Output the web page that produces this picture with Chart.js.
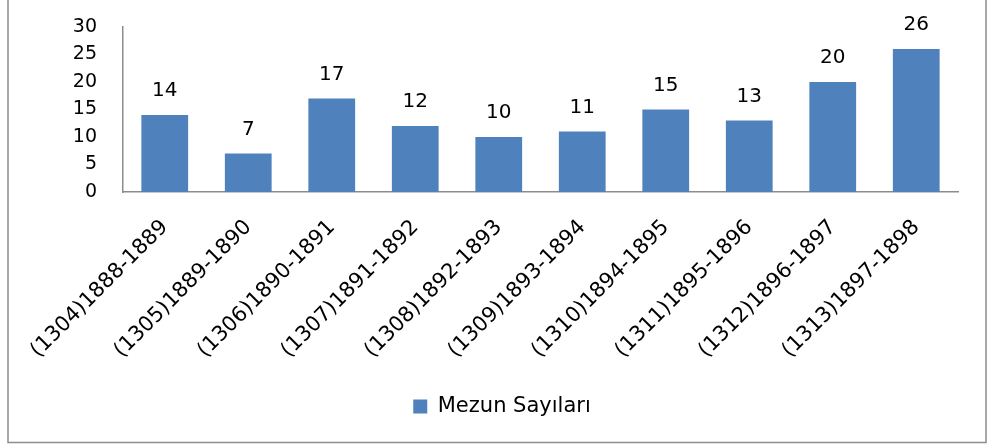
<!DOCTYPE html>
<html>
<head>
<meta charset="utf-8">
<script src="https://cdn.jsdelivr.net/npm/chart.js@4"></script>
<style>
  html, body { margin: 0; padding: 0; background: #fff; }
  #wrap { width: 988px; height: 447px; }
</style>
</head>
<body>
<div id="wrap"><canvas id="myChart" width="988" height="447"></canvas></div>
<script>
const donemler = ['(1304)1888-1889', '(1305)1889-1890', '(1306)1890-1891', '(1307)1891-1892', '(1308)1892-1893',
    '(1309)1893-1894', '(1310)1894-1895', '(1311)1895-1896', '(1312)1896-1897', '(1313)1897-1898'];
const mezunSayilari = [14, 7, 17, 12, 10, 11, 15, 13, 20, 26];
const seriAdi = 'Mezun Sayıları';
const yTicks = [0, 5, 10, 15, 20, 25, 30];

const yazi = 'DejaVu Sans';
const gri = '#8c8c8c';

// bar ustundeki sayilar
const degerEtiketi = {
    id: 'degerEtiketi',
    afterDatasetsDraw(chart) {
        const c = chart.ctx;
        const meta = chart.getDatasetMeta(0);
        c.save();
        c.font = '20px "' + yazi + '"';
        c.fillStyle = '#000';
        c.textAlign = 'center';
        c.textBaseline = 'alphabetic';
        meta.data.forEach((bar, i) => {
            c.fillText(String(chart.data.datasets[0].data[i]), bar.x, bar.y - 19);
        });
        c.restore();
    }
};

// dis cerceve + legend'i biraz saga kaydir
const cerceve = {
    id: 'cerceve',
    afterLayout(chart) {
        chart.legend.left += 23;
        chart.legend.right += 23;
    },
    beforeDraw(chart) {
        const c = chart.ctx;
        c.save();
        c.fillStyle = '#fff';
        c.fillRect(0, 0, chart.width, chart.height);
        c.strokeStyle = gri;
        c.lineWidth = 1.5;
        c.strokeRect(8, -5, 978, 447.5);
        c.restore();
    }
};

const ctx = document.getElementById('myChart');

let myChart = new Chart(ctx, {
    type: 'bar',
    data: {
        labels: donemler,
        datasets: [{
            label: seriAdi,
            data: mezunSayilari,
            backgroundColor: '#4f81bd',
            borderWidth: 0,
            barPercentage: 0.56,
            categoryPercentage: 1
        }]
    },
    options: {
        responsive: false,
        animation: false,
        layout: {
            padding: { top: 27, right: 30, left: 0, bottom: 20 }
        },
        scales: {
            x: {
                grid: { display: false, drawTicks: false },
                border: { display: true, color: gri, width: 1.5 },
                ticks: {
                    color: '#000',
                    font: { family: yazi, size: 21 },
                    minRotation: 45,
                    maxRotation: 45,
                    padding: 23,
                    autoSkip: false
                },
                afterFit(scale) {
                    scale.height = 194;
                    scale.paddingLeft = 0;
                    scale.paddingRight = 0;
                }
            },
            y: {
                min: 0,
                max: 30,
                grid: { display: false, drawTicks: false },
                border: { display: true, color: gri, width: 1.5 },
                ticks: {
                    color: '#000',
                    font: { family: yazi, size: 19 },
                    padding: 26,
                    autoSkip: false
                },
                afterBuildTicks(scale) {
                    scale.ticks = yTicks.map(v => ({ value: v }));
                },
                afterFit(scale) {
                    scale.width = 123;
                    // tick padding'i ust/alt bosluga eklenmesin
                    scale.paddingTop = 0;
                    scale.paddingBottom = 0;
                }
            }
        },
        plugins: {
            legend: {
                position: 'bottom',
                labels: {
                    color: '#000',
                    font: { family: yazi, size: 21 },
                    boxWidth: 14,
                    boxHeight: 14,
                    padding: 10
                }
            },
            tooltip: { enabled: false }
        }
    },
    plugins: [cerceve, degerEtiketi]
});
</script>
</body>
</html>
